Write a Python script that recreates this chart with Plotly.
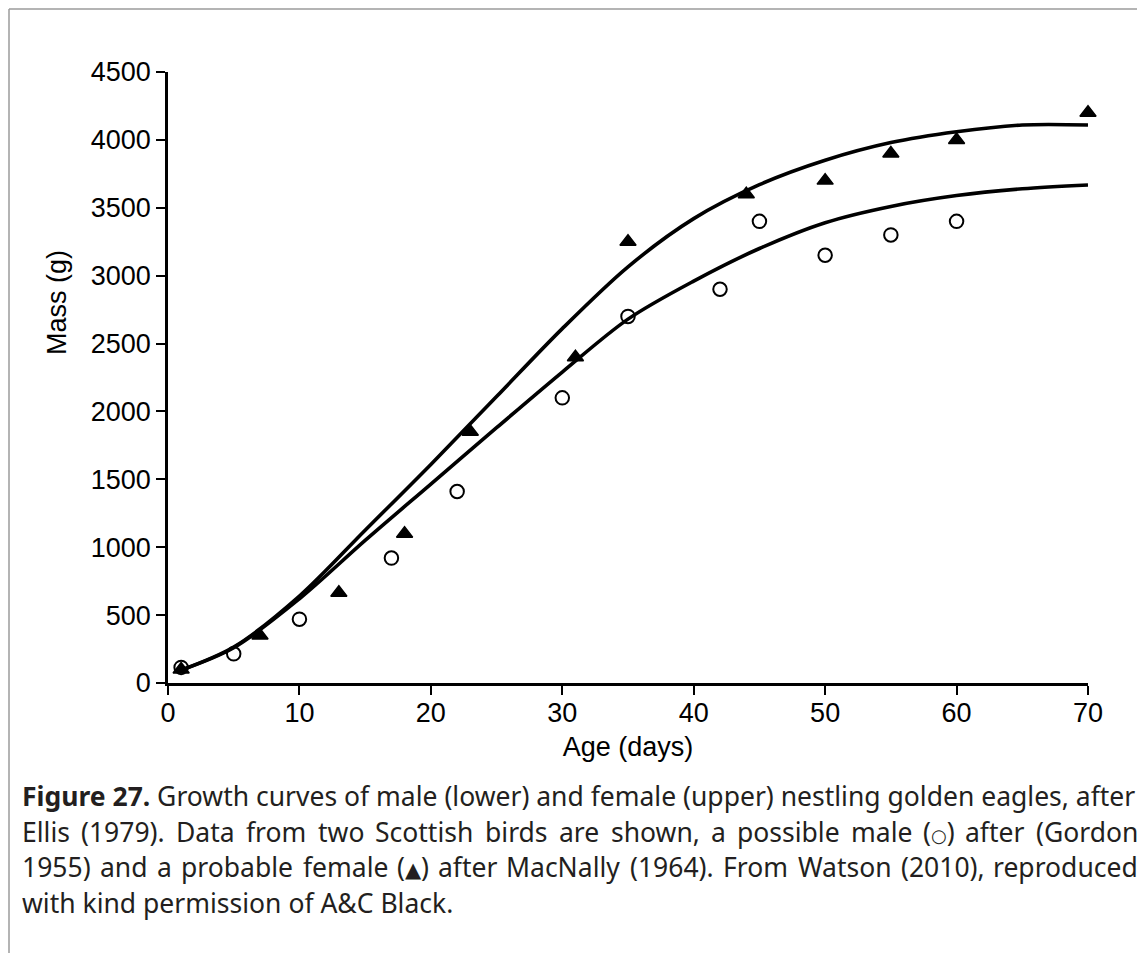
import plotly.graph_objects as go

# ---- data ----
male_age = [1, 5, 10, 17, 22, 30, 35, 42, 45, 50, 55, 60]
male_mass = [115, 215, 470, 920, 1410, 2100, 2700, 2900, 3400, 3150, 3300, 3400]

female_age = [1, 7, 13, 18, 23, 31, 35, 44, 50, 55, 60, 70]
female_mass = [100, 350, 665, 1100, 1850, 2400, 3250, 3600, 3700, 3900, 4000, 4200]

curve_age = [1, 5, 10, 15, 20, 25, 30, 35, 40, 45, 50, 55, 60, 65, 70]
female_curve = [95, 265, 640, 1125, 1610, 2110, 2610, 3065, 3420, 3670, 3850, 3980, 4060, 4110, 4110]
male_curve = [95, 260, 620, 1050, 1465, 1880, 2290, 2680, 2960, 3200, 3390, 3510, 3590, 3640, 3668]

x_ticks = [0, 10, 20, 30, 40, 50, 60, 70]
y_ticks = [0, 500, 1000, 1500, 2000, 2500, 3000, 3500, 4000, 4500]

caption_line1 = "<b>Figure 27.</b> Growth curves of male (lower) and female (upper) nestling golden eagles, after"
caption_line2 = "Ellis (1979). Data from two Scottish birds are shown, a possible male (○) after (Gordon"
caption_line3 = "1955) and a probable female (▲) after MacNally (1964). From Watson (2010), reproduced"
caption_line4 = "with kind permission of A&C Black."

# ---- layout helpers (page pixel coordinates; the page body has an 8px margin) ----
OFF = 8
PAGE_W, PAGE_H = 1145, 953
W, H = PAGE_W - OFF, PAGE_H - OFF
L, R, T, B = 168, 1088, 72, 683   # plot area in page pixels


def px(xp):
    return (xp - L) / (R - L)


def py(yp):
    return (B - yp) / (B - T)


# approximate Noto Sans advance widths (per 1000 em) for justification
ADV = {' ': 260, 'a': 556, 'b': 613, 'c': 476, 'd': 613, 'e': 561, 'f': 336, 'g': 546,
       'h': 613, 'i': 258, 'j': 258, 'k': 539, 'l': 258, 'm': 930, 'n': 613, 'o': 599,
       'p': 613, 'q': 613, 'r': 408, 's': 477, 't': 353, 'u': 613, 'v': 500, 'w': 778,
       'x': 519, 'y': 500, 'z': 468, '(': 296, ')': 296, '.': 266, ',': 246, '&': 705,
       'A': 633, 'B': 647, 'C': 631, 'D': 730, 'E': 556, 'F': 519, 'G': 728, 'M': 920,
       'N': 783, 'S': 549, 'W': 917, '○': 560, '▲': 560}
for d in '0123456789':
    ADV[d] = 572

CAP_SIZE = 26.5
CAP_LEFT, CAP_RIGHT = 22, 1138
line1_plain = "Figure 27. Growth curves of male (lower) and female (upper) nestling golden eagles, after"


def em_width(s):
    return sum(ADV.get(ch, 560) for ch in s) / 1000.0


# calibrate: line 1 rendered at natural spacing measured ~41.96 em wide
k = 41.96 / (em_width(line1_plain) + 0.6)


def word_html(w):
    w = w.replace("○", "<span style=\"font-family:'DejaVu Sans';font-size:18px\">○</span>")
    w = w.replace("▲", "<span style=\"font-family:'DejaVu Sans';font-size:21px\">▲</span>")
    return w


fig = go.Figure()

fig.add_trace(go.Scatter(
    x=male_age, y=male_mass, mode="markers",
    marker=dict(symbol="circle", size=13.5, color="white", line=dict(color="black", width=2)),
    showlegend=False, cliponaxis=False,
))
fig.add_trace(go.Scatter(
    x=female_age, y=female_mass, mode="markers",
    marker=dict(symbol="triangle-up", size=14, color="black", line=dict(color="black", width=1.5)),
    showlegend=False, cliponaxis=False,
))
fig.add_trace(go.Scatter(
    x=curve_age, y=male_curve, mode="lines",
    line=dict(color="black", width=3.6, shape="spline", smoothing=0.9),
    showlegend=False, cliponaxis=False,
))
fig.add_trace(go.Scatter(
    x=curve_age, y=female_curve, mode="lines",
    line=dict(color="black", width=3.6, shape="spline", smoothing=0.9),
    showlegend=False, cliponaxis=False,
))

axis_font = dict(family="Liberation Sans, Arial, sans-serif", size=27, color="black")

fig.update_xaxes(
    range=[0, 70], tickvals=x_ticks, ticks="outside", ticklen=9, tickwidth=2,
    tickcolor="black", showline=True, linecolor="black", linewidth=2.5,
    showgrid=False, zeroline=False, tickfont=axis_font, ticklabelstandoff=-5,
    title=dict(text="Age (days)", font=axis_font, standoff=10),
)
fig.update_yaxes(
    range=[0, 4500], tickvals=y_ticks, ticks="outside", ticklen=9, tickwidth=2,
    tickcolor="black", showline=True, linecolor="black", linewidth=2.5,
    showgrid=False, zeroline=False, tickfont=axis_font,
)

cap_font = dict(family="Noto Sans, Open Sans, sans-serif", size=CAP_SIZE, color="#231f20")

annotations = [
    dict(text="Mass (g)", x=px(57), y=py(303), xref="paper", yref="paper",
         showarrow=False, textangle=-90, font=axis_font, xanchor="center", yanchor="middle"),
]

centers = [796, 831.5, 867, 902.5]

# line 1 and line 4: natural spacing
for text, cy in ((caption_line1, centers[0]), (caption_line4, centers[3])):
    annotations.append(dict(
        text=text, x=px(CAP_LEFT - 2), y=py(cy), xref="paper", yref="paper",
        showarrow=False, xanchor="left", yanchor="middle", font=cap_font,
    ))

# lines 2 and 3: justified word by word
for text, cy in ((caption_line2, centers[1]), (caption_line3, centers[2])):
    words = text.split(" ")
    widths = [em_width(w) * k * CAP_SIZE for w in words]
    gap = ((CAP_RIGHT - CAP_LEFT) - sum(widths)) / (len(words) - 1)
    xcur = CAP_LEFT
    for i, (w, wd) in enumerate(zip(words, widths)):
        if i == len(words) - 1:
            annotations.append(dict(
                text=word_html(w), x=px(CAP_RIGHT + 2), y=py(cy), xref="paper", yref="paper",
                showarrow=False, xanchor="right", yanchor="middle", font=cap_font,
            ))
        else:
            annotations.append(dict(
                text=word_html(w), x=px(xcur - 2), y=py(cy), xref="paper", yref="paper",
                showarrow=False, xanchor="left", yanchor="middle", font=cap_font,
            ))
        xcur += wd + gap

shapes = [
    dict(type="line", xref="paper", yref="paper", x0=px(9), x1=px(PAGE_W + 5), y0=py(9), y1=py(9),
         line=dict(color="#9b9b9b", width=1.5)),
    dict(type="line", xref="paper", yref="paper", x0=px(9), x1=px(9), y0=py(9), y1=py(PAGE_H + 5),
         line=dict(color="#9b9b9b", width=1.5)),
]

fig.update_layout(
    width=W, height=H,
    margin=dict(l=L - OFF, r=W - (R - OFF), t=T - OFF, b=H - (B - OFF), pad=0),
    paper_bgcolor="white", plot_bgcolor="white",
    annotations=annotations, shapes=shapes,
)

fig.write_html("out.html")
